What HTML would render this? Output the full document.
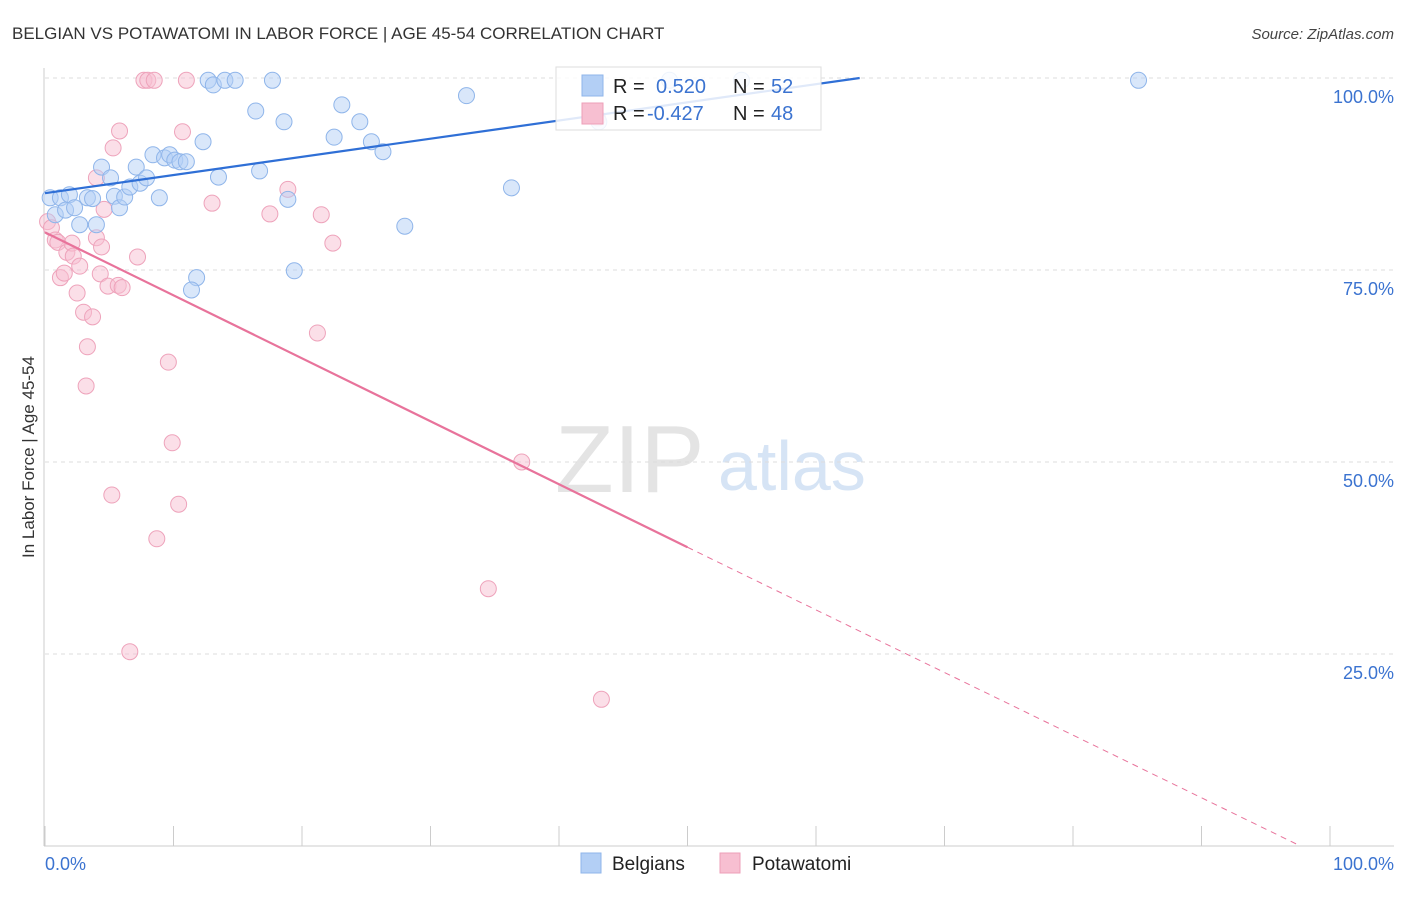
<!DOCTYPE html>
<html><head><meta charset="utf-8"><style>
body{margin:0;background:#fff;font-family:"Liberation Sans",sans-serif;}
svg text{font-family:"Liberation Sans",sans-serif;}
</style></head><body>
<svg id="chart" width="1406" height="892">
<text x="12" y="39" font-size="17" fill="#333">BELGIAN VS POTAWATOMI IN LABOR FORCE | AGE 45-54 CORRELATION CHART</text>
<text x="1394" y="39" font-size="15" fill="#444" text-anchor="end" font-style="italic">Source: ZipAtlas.com</text>
<text x="0" y="0" transform="translate(34,457) rotate(-90)" font-size="17" fill="#333" text-anchor="middle">In Labor Force | Age 45-54</text>
<text x="555" y="492" font-size="96" fill="#e4e4e4" font-family="Liberation Serif">ZIP</text>
<text x="718" y="490" font-size="70" fill="#d6e4f5">atlas</text>
<g id="grid"></g><g id="ticks"></g>
<g id="pts"></g><g id="trends"></g>
<g>
<rect x="556" y="67" width="265" height="63" fill="#fff" fill-opacity="0.85" stroke="#ddd"/>
<rect x="582" y="75" width="21" height="21" fill="#b3cff5" stroke="#8fb5ea"/>
<rect x="582" y="103" width="21" height="21" fill="#f7bfd1" stroke="#ee9fb8"/>
<text x="613" y="93" font-size="20" fill="#222">R =</text>
<text x="656" y="93" font-size="20" fill="#3b73d0">0.520</text>
<text x="733" y="93" font-size="20" fill="#222">N =</text>
<text x="771" y="93" font-size="20" fill="#3b73d0">52</text>
<text x="613" y="120" font-size="20" fill="#222">R =</text>
<text x="647" y="120" font-size="20" fill="#3b73d0">-0.427</text>
<text x="733" y="120" font-size="20" fill="#222">N =</text>
<text x="771" y="120" font-size="20" fill="#3b73d0">48</text>
</g>
<g>
<rect x="581" y="853" width="20" height="20" fill="#b3cff5" stroke="#8fb5ea"/>
<text x="612" y="870" font-size="19" fill="#222">Belgians</text>
<rect x="720" y="853" width="20" height="20" fill="#f7bfd1" stroke="#ee9fb8"/>
<text x="752" y="870" font-size="19" fill="#222">Potawatomi</text>
</g>
<text x="45" y="870" font-size="18" fill="#3b73d0">0.0%</text>
<text x="1394" y="870" font-size="18" fill="#3b73d0" text-anchor="end">100.0%</text>
</svg>
<script>
const yTicks=[25,50,75,100];
const yTickLabels=["25.0%","50.0%","75.0%","100.0%"];
const belX=[0.4,0.8,1.2,1.6,1.9,2.3,2.7,3.3,3.7,4.0,4.4,5.1,5.4,5.8,6.2,6.6,7.1,7.4,7.9,8.4,8.9,9.3,9.7,10.1,10.5,11.0,11.8,11.4,12.3,12.7,13.1,13.5,14.0,14.8,16.4,16.7,17.7,18.6,18.9,19.4,22.5,23.1,24.5,25.4,26.3,28.0,32.8,36.3,43.1,48.6,54.2,85.1];
const belY=[84.4,82.2,84.4,82.8,84.8,83.1,80.9,84.4,84.3,80.9,88.4,87.0,84.6,83.1,84.5,85.8,88.4,86.3,87.0,90.0,84.4,89.6,90.0,89.3,89.1,89.1,74.0,72.4,91.7,99.7,99.1,87.1,99.7,99.7,95.7,87.9,99.7,94.3,84.2,74.9,92.3,96.5,94.3,91.7,90.4,80.7,97.7,85.7,94.3,99.7,99.7,99.7];
const potX=[0.2,0.5,0.8,1.0,1.2,1.5,1.7,2.1,2.2,2.5,2.7,3.0,3.3,3.2,3.7,4.0,4.0,4.3,4.4,4.6,4.9,5.2,5.3,5.7,5.8,6.0,6.6,7.2,7.7,8.0,8.5,8.7,9.6,9.9,10.4,10.7,11.0,13.0,17.5,18.9,21.2,21.5,22.4,34.5,37.1,43.0,43.3];
const potY=[81.3,80.5,78.9,78.6,74.0,74.6,77.3,78.5,76.8,72.0,75.5,69.5,65.0,59.9,68.9,87.0,79.2,74.5,78.0,82.9,72.9,45.7,90.9,73.0,93.1,72.7,25.3,76.7,99.7,99.7,99.7,40.0,63.0,52.5,44.5,93.0,99.7,83.7,82.3,85.5,66.8,82.2,78.5,33.5,50.0,94.8,19.1];
const belTrend=[0,85.0,63.4,100];
const potTrend=[0,79.9,50,38.9,97.7,0];
const NS="http://www.w3.org/2000/svg";
const sx=v=>45+v*12.85, sy=v=>846-v*7.68;
function mk(t,a,p){const e=document.createElementNS(NS,t);for(const k in a)e.setAttribute(k,a[k]);p.appendChild(e);return e;}
const grid=document.getElementById('grid'),ticks=document.getElementById('ticks');
yTicks.forEach((t,i)=>{
 const l=mk('line',{x1:45,x2:1394,y1:sy(t),y2:sy(t),stroke:'#ddd','stroke-dasharray':'4,4'},grid);
 
 
 const tx=mk('text',{x:1394,y:sy(t)+25,'font-size':18,fill:'#3b73d0','text-anchor':'end'},ticks);
 tx.textContent=yTickLabels[i];
 
 
});
const ax=mk('line',{x1:44,x2:44,y1:68,y2:846,stroke:'#ccc'},ticks);


const bx=mk('line',{x1:44,x2:1394,y1:846,y2:846,stroke:'#ccc'},ticks);


for(let i=0;i<=10;i++){const l=mk('line',{x1:sx(i*10),x2:sx(i*10),y1:826,y2:846,stroke:'#ccc'},ticks);
 
 }
const pts=document.getElementById('pts');
potX.forEach((x,i)=>{const c=mk('circle',{cx:sx(x),cy:sy(potY[i]),r:8,fill:'#f7bfd1','fill-opacity':0.5,stroke:'#eea3bb','stroke-width':1},pts);
 
 });
belX.forEach((x,i)=>{const c=mk('circle',{cx:sx(x),cy:sy(belY[i]),r:8,fill:'#b3cff5','fill-opacity':0.5,stroke:'#8fb5ea','stroke-width':1},pts);
 
 });
const tr=document.getElementById('trends');
const b=mk('line',{x1:sx(belTrend[0]),y1:sy(belTrend[1]),x2:sx(belTrend[2]),y2:sy(belTrend[3]),stroke:'#2f6fd6','stroke-width':2.2},tr);


const p1=mk('line',{x1:sx(potTrend[0]),y1:sy(potTrend[1]),x2:sx(potTrend[2]),y2:sy(potTrend[3]),stroke:'#e8739b','stroke-width':2.2},tr);


const p2=mk('line',{x1:sx(potTrend[2]),y1:sy(potTrend[3]),x2:sx(potTrend[4]),y2:sy(potTrend[5]),stroke:'#e8739b','stroke-width':1,'stroke-dasharray':'6,5'},tr);


</script>
</body></html>
